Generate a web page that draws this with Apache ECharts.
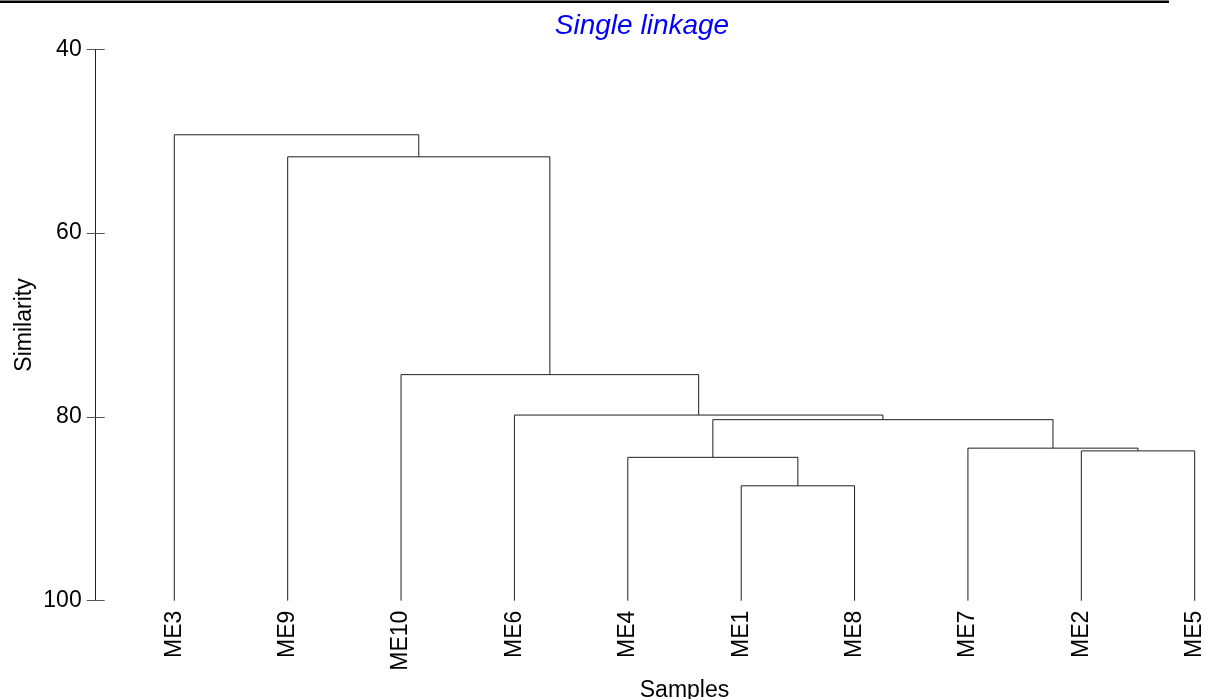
<!DOCTYPE html>
<html>
<head>
<meta charset="utf-8">
<title>Single linkage</title>
<script src="https://cdn.jsdelivr.net/npm/echarts@6/dist/echarts.min.js"></script>
<style>
  html, body { margin: 0; padding: 0; background: #fff; }
  #chart { width: 1206px; height: 699px; }
</style>
</head>
<body>
<div id="chart"></div>
<script>
// Leaf order along the horizontal axis
const leaves = ['ME3', 'ME9', 'ME10', 'ME6', 'ME4', 'ME1', 'ME8', 'ME7', 'ME2', 'ME5'];

// Agglomeration steps: each step joins two clusters at a similarity level.
// A cluster is named by a sample, or by "#k" for the cluster formed at step k.
const mergeLeft  = ['ME1', 'ME4', 'ME2', 'ME7', '#1', 'ME6', 'ME10', 'ME9', 'ME3'];
const mergeRight = ['ME8', '#0', 'ME5', '#2', '#3', '#4', '#5', '#6', '#7'];
const mergeSimilarity = [87.5, 84.4, 83.7, 83.4, 80.3, 79.8, 75.4, 51.7, 49.3];

// Similarity axis ticks
const simTicks = [40, 60, 80, 100];
const leafSimilarity = 100;

// Work out each cluster's position (mean of its two children) and height
const nodePos = {};
leaves.forEach((name, i) => { nodePos[name] = { x: i, y: leafSimilarity }; });
const links = [];
mergeSimilarity.forEach((h, k) => {
  const a = nodePos[mergeLeft[k]];
  const b = nodePos[mergeRight[k]];
  const left = a.x <= b.x ? a : b;
  const right = a.x <= b.x ? b : a;
  links.push({ coords: [[left.x, left.y], [left.x, h], [right.x, h], [right.x, right.y]] });
  nodePos['#' + k] = { x: (a.x + b.x) / 2, y: h };
});

const FONT = '"Liberation Sans", Arial, sans-serif';
const gridLeft = 174.3;
const axisX = 95.7;

const chart = echarts.init(document.getElementById('chart'), null, { renderer: 'canvas' });
chart.setOption({
  animation: false,
  backgroundColor: '#ffffff',
  title: {
    text: 'Single linkage',
    left: 637,
    top: 7,
    textAlign: 'center',
    textStyle: { color: '#0000ff', fontStyle: 'italic', fontWeight: 'normal', fontSize: 28, fontFamily: FONT }
  },
  graphic: [{
    type: 'line',
    shape: { x1: 0, y1: 1.8, x2: 1169, y2: 1.8 },
    style: { stroke: '#000', lineWidth: 2.4 },
    silent: true
  }],
  grid: { left: gridLeft, right: 11.3, top: 49.3, bottom: 98.3, containLabel: false, outerBoundsMode: 'none' },
  xAxis: {
    type: 'value',
    min: 0,
    max: leaves.length - 1,
    interval: 1,
    name: 'Samples',
    nameLocation: 'middle',
    nameGap: 78,
    nameMoveOverlap: false,
    nameTextStyle: { fontSize: 23, color: '#000', fontFamily: FONT },
    axisLine: { show: false, onZero: false },
    axisTick: { show: false },
    splitLine: { show: false },
    axisLabel: {
      rotate: 90,
      margin: 10,
      fontSize: 23,
      color: '#000',
      fontFamily: FONT,
      formatter: v => leaves[v] || ''
    }
  },
  yAxis: [{
    type: 'value',
    inverse: true,
    min: simTicks[0],
    max: simTicks[simTicks.length - 1],
    interval: simTicks[1] - simTicks[0],
    position: 'left',
    offset: gridLeft - axisX,
    name: 'Similarity',
    nameLocation: 'middle',
    nameRotate: 90,
    nameGap: 60,
    nameMoveOverlap: false,
    nameTextStyle: { fontSize: 23, color: '#000', fontFamily: FONT },
    axisLine: { show: true, onZero: false, lineStyle: { color: '#222', width: 1 } },
    axisTick: { show: true, inside: false, length: 9, lineStyle: { color: '#555', width: 1 } },
    axisLabel: { margin: 14, fontSize: 23, color: '#000', fontFamily: FONT },
    splitLine: { show: false }
  }, {
    type: 'value',
    inverse: true,
    min: simTicks[0],
    max: simTicks[simTicks.length - 1],
    interval: simTicks[1] - simTicks[0],
    position: 'left',
    offset: gridLeft - axisX,
    axisLine: { show: false, onZero: false },
    axisTick: { show: true, inside: true, length: 9, lineStyle: { color: '#555', width: 1 } },
    axisLabel: { show: false },
    splitLine: { show: false }
  }],
  series: [{
    type: 'lines',
    coordinateSystem: 'cartesian2d',
    polyline: true,
    silent: true,
    lineStyle: { color: '#1e1e1e', width: 1, opacity: 1 },
    data: links
  }]
});
</script>
</body>
</html>
